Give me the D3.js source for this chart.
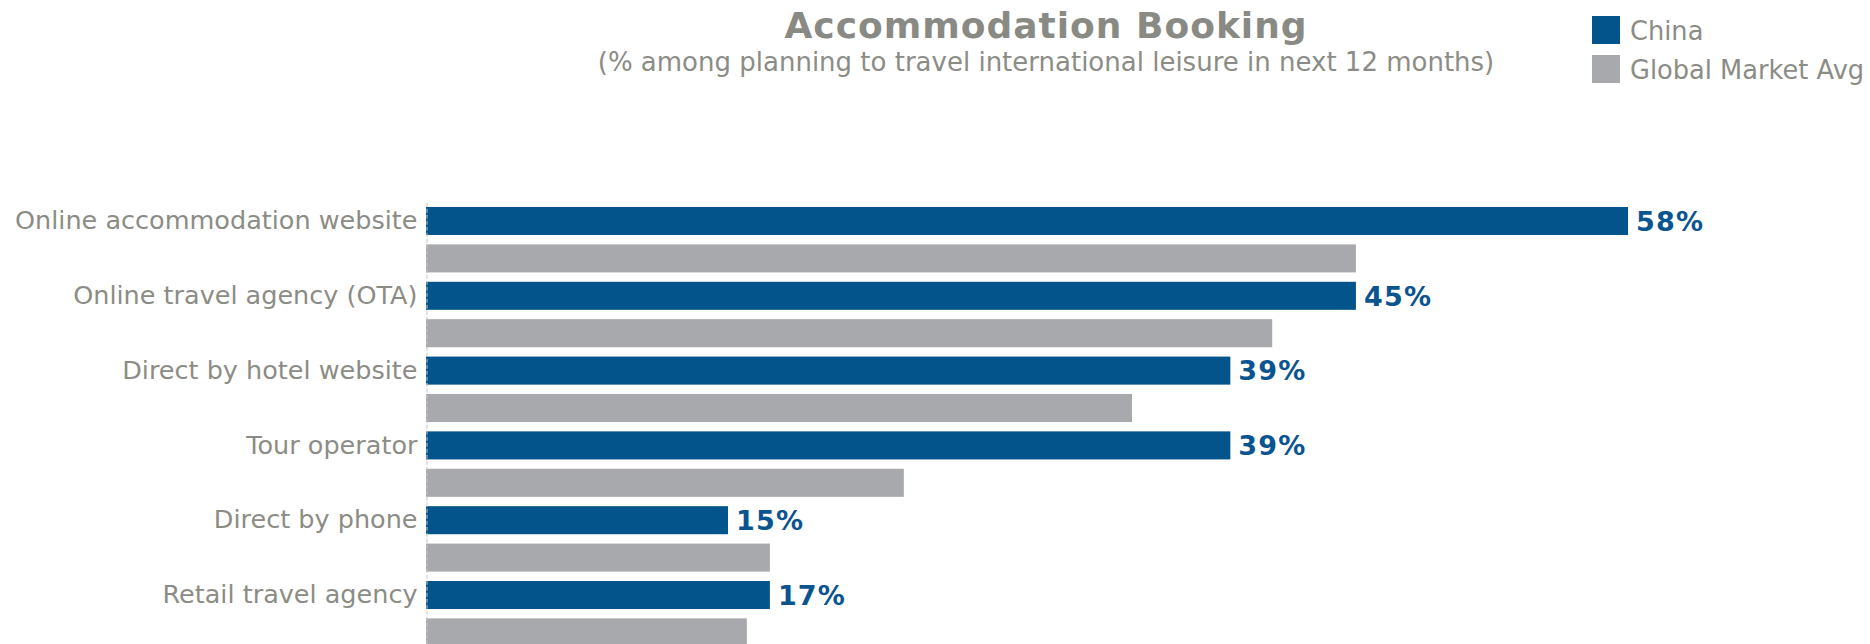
<!DOCTYPE html>
<html>
<head>
<meta charset="utf-8">
<script src="https://cdn.jsdelivr.net/npm/d3@7/dist/d3.min.js"></script>
<style>
  html, body { margin: 0; padding: 0; background: #ffffff; }
  svg { display: block; }
</style>
</head>
<body>
<svg id="chart" width="1870" height="644"></svg>
<script>
// Booking channels, top to bottom
const categories = [
  "Online accommodation website",
  "Online travel agency (OTA)",
  "Direct by hotel website",
  "Tour operator",
  "Direct by phone",
  "Retail travel agency"
];
const seriesNames = ["China", "Global Market Avg"];
const chinaValues = [58, 45, 39, 39, 15, 17];
const globalValues = [45, 41, 34.3, 23.4, 17, 15.9];

const titleText = "Accommodation Booking";
const subtitleText = "(% among planning to travel international leisure in next 12 months)";

const colors = { "China": "#02548b", "Global Market Avg": "#a8a9ad" };
const textGray = "#8c8c86";
const fontFamily = "'DejaVu Sans', Verdana, sans-serif";

const svg = d3.select("#chart");
const axisX = 426;

const rows = categories.map((c, i) => ({
  category: c,
  values: [
    { series: "China", value: chinaValues[i] },
    { series: "Global Market Avg", value: globalValues[i] }
  ]
}));

const x = d3.scaleLinear().domain([0.57, 60]).range([axisX, axisX + 59.43 * 20.93]);
const y = d3.scaleBand().domain(categories).range([202.3, 202.3 + 6 * 74.8]).paddingInner(0).paddingOuter(0);
const ySub = d3.scaleBand().domain(seriesNames).range([0, y.bandwidth()]).paddingInner(0.25).paddingOuter(0.125);

// Title block
svg.append("text")
  .attr("x", 1046).attr("y", 38)
  .attr("text-anchor", "middle")
  .attr("font-family", fontFamily).attr("font-weight", "bold").attr("font-size", 36)
  .attr("letter-spacing", 1)
  .attr("fill", "#8a8a84")
  .text(titleText);
svg.append("text")
  .attr("x", 1046).attr("y", 71)
  .attr("text-anchor", "middle")
  .attr("font-family", fontFamily).attr("font-size", 26)
  .attr("fill", textGray)
  .text(subtitleText);

// Legend
const legend = svg.append("g").attr("transform", "translate(1592,16)");
seriesNames.forEach((name, i) => {
  const g = legend.append("g").attr("transform", `translate(0,${i * 39})`);
  g.append("rect").attr("width", 28).attr("height", 28).attr("fill", colors[name]);
  g.append("text").attr("x", 38).attr("y", 23.5)
    .attr("font-family", fontFamily).attr("font-size", 25.7)
    .attr("fill", textGray).text(name);
});

// Bars
const groups = svg.append("g").selectAll("g.cat")
  .data(rows).join("g")
  .attr("class", "cat")
  .attr("transform", d => `translate(0,${y(d.category)})`);

groups.selectAll("rect")
  .data(d => d.values).join("rect")
  .attr("x", axisX)
  .attr("y", d => ySub(d.series))
  .attr("width", d => x(d.value) - axisX)
  .attr("height", ySub.bandwidth())
  .attr("fill", d => colors[d.series]);

// Value labels on the China bars
groups.append("text")
  .attr("x", d => x(d.values[0].value) + 8)
  .attr("y", ySub("China") + ySub.bandwidth() / 2)
  .attr("dy", "0.36em")
  .attr("font-family", fontFamily).attr("font-weight", "bold").attr("font-size", 27)
  .attr("letter-spacing", 1.2)
  .attr("fill", "#0a5490")
  .text(d => d.values[0].value + "%");

// Category axis
const yAxis = d3.axisLeft(y).tickSize(0).tickPadding(9);
const axisG = svg.append("g").attr("transform", `translate(${axisX + 0.5},0)`).call(yAxis);
axisG.select(".domain")
  .attr("stroke", "#c4c4c4").attr("stroke-width", 1).attr("stroke-dasharray", "4,2");
axisG.selectAll(".tick text")
  .attr("font-family", fontFamily).attr("font-size", 25.5)
  .attr("fill", textGray)
  .attr("y", ySub("China") + ySub.bandwidth() / 2 - y.bandwidth() / 2);
</script>
</body>
</html>
